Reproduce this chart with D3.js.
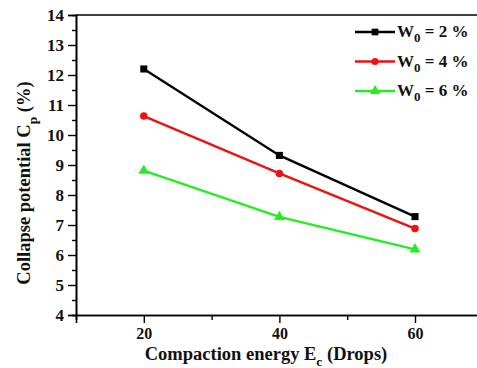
<!DOCTYPE html>
<html><head><meta charset="utf-8">
<script src="https://cdn.jsdelivr.net/npm/d3@7"></script>
<style>body{margin:0;background:#fff}svg{display:block}text{font-family:"Liberation Serif","Times New Roman",serif;font-weight:bold}</style>
</head><body><svg id="c" width="477" height="368"></svg>
<script>
const energies = [20, 40, 60];
const seriesNames = ["2", "4", "6"];
const w2 = [12.2, 9.32, 7.28];
const w4 = [10.63, 8.72, 6.88];
const w6 = [8.81, 7.27, 6.19];
const yTicks = [4,5,6,7,8,9,10,11,12,13,14];
const xTicks = [20,40,60];
const colors = ["#000000", "#ee1111", "#22ee22"];
const symbols = [d3.symbolSquare, d3.symbolCircle, d3.symbolTriangle];

const svg = d3.select("#c");
const x = d3.scaleLinear().domain([10,70]).range([76, 482.8]);
const y = d3.scaleLinear().domain([4,14]).range([315, 15]);

// axes
const gy = svg.append("g").attr("transform","translate(76,0)")
  .call(d3.axisLeft(y).tickValues(yTicks).tickSize(8).tickPadding(4).tickFormat(d3.format("d")));
const gyMinor = svg.append("g").attr("transform","translate(76,0)")
  .call(d3.axisLeft(y).tickValues(d3.range(4.5,14,1)).tickSize(4).tickFormat(""));
const gx = svg.append("g").attr("transform","translate(0,315)")
  .call(d3.axisBottom(x).tickValues(xTicks).tickSize(8).tickPadding(5).tickFormat(d3.format("d")));
const gxMinor = svg.append("g").attr("transform","translate(0,315)")
  .call(d3.axisBottom(x).tickValues([30,50]).tickSize(5).tickFormat(""));
[gy,gyMinor,gx,gxMinor].forEach(g=>{
  g.selectAll("path.domain").attr("stroke","#000").attr("stroke-width",1.6);
  g.selectAll(".tick line").attr("stroke","#000").attr("stroke-width",1.4);
  g.selectAll("text").attr("fill","#111").style("font-family","Liberation Serif").style("font-weight","bold");
});
gy.selectAll("text").attr("font-size",17);
gx.selectAll("text").attr("font-size",16);
svg.append("line").attr("x1",x(10)).attr("x2",x(70)).attr("y1",y(14)).attr("y2",y(14))
  .attr("stroke","#000").attr("stroke-width",1.6);

// series
const all = [w2,w4,w6];
const line = d3.line().x((d,i)=>x(energies[i])).y(d=>y(d));
all.forEach((s,k)=>{
  svg.append("path").attr("d",line(s)).attr("fill","none").attr("stroke",colors[k]).attr("stroke-width",2.3);
  svg.selectAll(null).data(s).enter().append("path")
    .attr("transform",(d,i)=>`translate(${x(energies[i])},${y(d)})`)
    .attr("d",d3.symbol().type(symbols[k]).size(k===1?44:50)).attr("fill",colors[k]);
});

// legend
const lg = svg.append("g");
seriesNames.forEach((n,k)=>{
  const cy = 32 + k*29.5;
  lg.append("line").attr("x1",355).attr("x2",395).attr("y1",cy).attr("y2",cy).attr("stroke",colors[k]).attr("stroke-width",2.3);
  lg.append("path").attr("transform",`translate(375,${cy})`).attr("d",d3.symbol().type(symbols[k]).size(k===1?40:45)).attr("fill",colors[k]);
  const t = lg.append("text").attr("x",397).attr("y",cy+5).attr("font-size",17).attr("fill","#111");
  t.append("tspan").text("W");
  t.append("tspan").attr("font-size",13).attr("dy",5).text("0");
  t.append("tspan").attr("dy",-5).text(" = " + n + " %");
});

// axis labels
const xl = svg.append("text").attr("x",266).attr("y",360).attr("text-anchor","middle").attr("font-size",18.5).attr("fill","#111");
xl.append("tspan").text("Compaction energy E");
xl.append("tspan").attr("font-size",13.5).attr("dy",5.5).text("c");
xl.append("tspan").attr("dy",-5.5).text(" (Drops)");

const yl = svg.append("text").attr("transform","translate(30,183) rotate(-90)").attr("text-anchor","middle").attr("font-size",18.5).attr("fill","#111");
yl.append("tspan").text("Collapse potential C");
yl.append("tspan").attr("font-size",13.5).attr("dy",7).text("p");
yl.append("tspan").attr("dy",-7).text(" (%)");
</script></body></html>
